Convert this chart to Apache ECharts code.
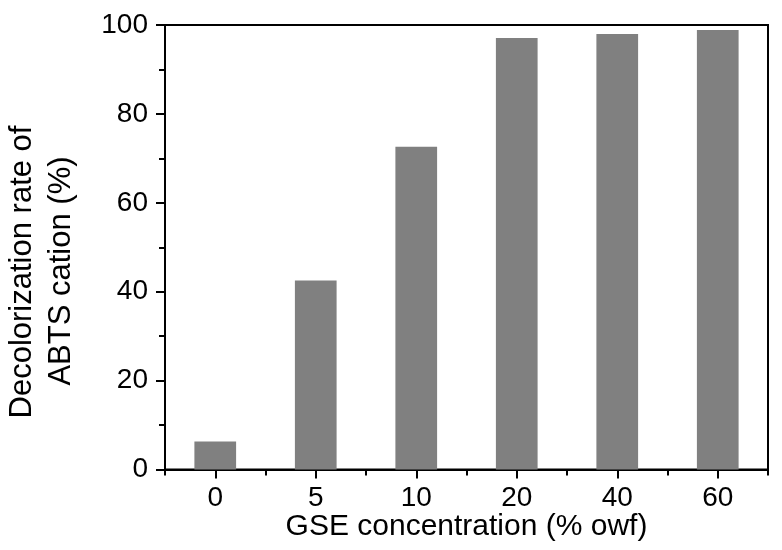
<!DOCTYPE html>
<html>
<head>
<meta charset="utf-8">
<script src="https://cdn.jsdelivr.net/npm/echarts@6/dist/echarts.min.js"></script>
<style>html,body{margin:0;padding:0;background:#fff;}#c{width:782px;height:550px;}</style>
</head>
<body>
<div id="c"></div>
<script>
var categories = ['0', '5', '10', '20', '40', '60'];
var values = [6.3, 42.5, 72.6, 97.1, 98.0, 98.9];
var yTicks = [0, 20, 40, 60, 80, 100];
var xName = 'GSE concentration (% owf)';
var yNameLines = ['Decolorization rate of', 'ABTS cation (%)'];

var FONT = '"Liberation Sans", Arial, sans-serif';
var chart = echarts.init(document.getElementById('c'), null, {renderer: 'canvas'});
var grid = {left: 165, right: 14, top: 25, bottom: 80.5};
chart.setOption({
  animation: false,
  backgroundColor: '#fff',
  grid: Object.assign({show: true, borderColor: '#000', borderWidth: 2, backgroundColor: 'transparent'}, grid),
  xAxis: [{
    type: 'category', data: categories, position: 'bottom',
    axisLine: {show: true, onZero: false, lineStyle: {color: '#000', width: 2}},
    axisTick: {show: true, alignWithLabel: true, length: 9, lineStyle: {color: '#000', width: 2}},
    axisLabel: {show: true, margin: 15, fontSize: 28, color: '#000', fontFamily: FONT},
    splitLine: {show: false}
  }, {
    type: 'category', data: categories, position: 'bottom',
    axisLine: {show: false},
    axisTick: {show: true, alignWithLabel: false, length: 6, lineStyle: {color: '#000', width: 2}},
    axisLabel: {show: false},
    splitLine: {show: false}
  }],
  yAxis: {
    type: 'value', min: yTicks[0], max: yTicks[yTicks.length - 1], interval: 20,
    axisLine: {show: true, lineStyle: {color: '#000', width: 2}},
    axisTick: {show: true, length: 9, lineStyle: {color: '#000', width: 2}},
    minorTick: {show: true, splitNumber: 2, length: 6, lineStyle: {color: '#000', width: 2}},
    axisLabel: {margin: 17, fontSize: 28, color: '#000', fontFamily: FONT},
    splitLine: {show: false}
  },
  series: [{
    type: 'bar', data: values, xAxisIndex: 0, barWidth: '41.5%',
    itemStyle: {color: '#808080'}
  }],
  graphic: [
    {type: 'text', x: 466.5, y: 527, style: {text: xName, fontSize: 30, fontFamily: FONT, fill: '#000', align: 'center', verticalAlign: 'middle'}},
    {type: 'text', x: 22.3, y: 272, rotation: Math.PI / 2, style: {text: yNameLines[0], fontSize: 31, fontFamily: FONT, fill: '#000', align: 'center', verticalAlign: 'middle'}},
    {type: 'text', x: 61.3, y: 271, rotation: Math.PI / 2, style: {text: yNameLines[1], fontSize: 31, fontFamily: FONT, fill: '#000', align: 'center', verticalAlign: 'middle'}}
  ]
});
</script>
</body>
</html>
